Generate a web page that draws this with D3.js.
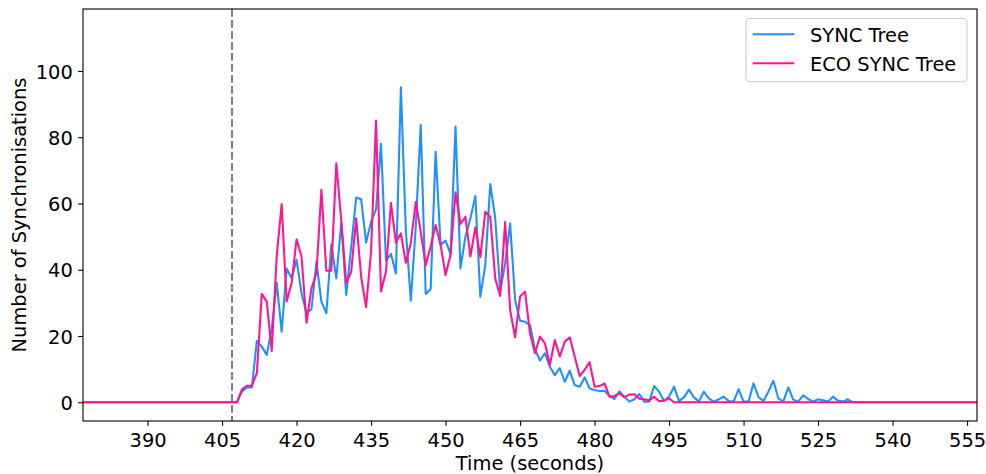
<!DOCTYPE html>
<html>
<head>
<meta charset="utf-8">
<script src="https://cdn.jsdelivr.net/npm/d3@7"></script>
<style>
  body { margin: 0; background: #fff; }
  svg { display: block; }
  text { font-family: "DejaVu Sans", sans-serif; fill: #000; }
</style>
</head>
<body>
<svg id="chart" width="986" height="474"></svg>
<script>
// One reading per second, starting at second 377.
const firstSecond = 377;

const syncTree = [
  // 377-406
  0, 0, 0, 0, 0, 0, 0, 0, 0, 0, 0, 0, 0, 0, 0, 0, 0, 0, 0, 0, 0, 0, 0, 0, 0, 0, 0, 0, 0, 0,
  // 407-416
  0, 0, 3.2, 4.5, 4.5, 18.5, 16.8, 14.3, 22.3, 36.1,
  // 417-426
  21.3, 40.4, 37.4, 43, 32.9, 26.9, 28.1, 42.4, 30.4, 26.9,
  // 427-436
  47.7, 37.4, 54.2, 32.4, 47, 61.8, 61.3, 48.2, 54.5, 58.2,
  // 437-446
  78, 42.7, 44.8, 38.9, 95.1, 52, 30.7, 53, 83.7, 32.7,
  // 447-456
  34.2, 75.6, 47.5, 48.8, 44.8, 83.2, 40.4, 50, 55.5, 62.3,
  // 457-466
  31.9, 41.4, 65.9, 55.5, 33.4, 42, 54, 30.9, 24.6, 24.3,
  // 467-476
  23.3, 16, 12.6, 14.8, 10.7, 8.2, 10.3, 6.2, 9.5, 5.2,
  // 477-486
  4.7, 7.5, 4.2, 3.7, 3.4, 3.5, 1.9, 1.0, 3.3, 1.7,
  // 487-496
  0.2, 0.9, 2.5, 0.2, 0.2, 4.9, 3.2, 0.4, 1.7, 4.7,
  // 497-506
  0.4, 1.5, 3.8, 1.5, 0.2, 3.2, 1.2, 0.2, 0.9, 1.7,
  // 507-516
  0.4, 0.2, 4.0, 0.2, 0.2, 5.7, 1.6, 0.4, 3.2, 6.5,
  // 517-526
  1.2, 0.2, 4.5, 0.8, 0.2, 2.1, 1.0, 0.2, 0.9, 0.6,
  // 527-533
  0.2, 1.7, 0.5, 0.2, 0.9, 0, 0,
  // 534-557
  0, 0, 0, 0, 0, 0, 0, 0, 0, 0, 0, 0, 0, 0, 0, 0, 0, 0, 0, 0, 0, 0, 0, 0
];

const ecoSyncTree = [
  // 377-406
  0, 0, 0, 0, 0, 0, 0, 0, 0, 0, 0, 0, 0, 0, 0, 0, 0, 0, 0, 0, 0, 0, 0, 0, 0, 0, 0, 0, 0, 0,
  // 407-416
  0, 0, 3.9, 5.0, 5.0, 8.8, 32.7, 30.4, 15.5, 44,
  // 417-426
  59.8, 30.4, 35.9, 49.2, 44, 24.0, 34.4, 38.9, 64.1, 39.7,
  // 427-436
  39.7, 72.1, 55, 35.9, 39.4, 55.5, 37.9, 28.7, 45.5, 85,
  // 437-446
  33.4, 39.4, 60.2, 48.2, 51, 42.1, 48, 60.5, 51.5, 41.4,
  // 447-456
  47, 53.5, 47.5, 38.4, 44.5, 63.4, 53.8, 56, 44, 52.8,
  // 457-466
  43.8, 57.5, 56, 37.4, 32.1, 54.5, 27.9, 19.6, 31.9, 33.4,
  // 467-476
  20.8, 14.8, 19.8, 17.8, 11.3, 18.8, 13.8, 18.3, 19.6, 13.8,
  // 477-486
  7.9, 9.8, 12.1, 4.7, 4.9, 5.7, 1.7, 1.9, 2.7, 1.5,
  // 487-496
  2.3, 2.4, 1.1, 0.9, 0.6, 1.7, 0.3, 0.5, 1.2, 0,
  // 497-526
  0, 0, 0, 0, 0, 0, 0, 0, 0, 0, 0, 0, 0, 0, 0, 0, 0, 0, 0, 0, 0, 0, 0, 0, 0, 0, 0, 0, 0, 0,
  // 527-557
  0, 0, 0, 0, 0, 0, 0, 0, 0, 0, 0, 0, 0, 0, 0, 0, 0, 0, 0, 0, 0, 0, 0, 0, 0, 0, 0, 0, 0, 0, 0
];

const seriesNames = ["SYNC Tree", "ECO SYNC Tree"];
const seriesColors = ["#1E90FF", "#FF1493"];
const xTicks = [390, 405, 420, 435, 450, 465, 480, 495, 510, 525, 540, 555];
const yTicks = [0, 20, 40, 60, 80, 100];
const startMarkerSecond = 407;
const xLabel = "Time (seconds)";
const yLabel = "Number of Synchronisations";

// Layout
const fontSize = 19.44;
const plot = { left: 83, right: 977, top: 9, bottom: 421 };

const svg = d3.select("#chart");

const x = d3.scaleLinear().domain([377, 557]).range([plot.left, plot.right]);
const y = d3.scaleLinear().domain([-5.65, 118.7]).range([plot.bottom, plot.top]);

svg.append("defs").append("clipPath").attr("id", "plot-clip")
  .append("rect")
  .attr("x", plot.left).attr("y", plot.top)
  .attr("width", plot.right - plot.left).attr("height", plot.bottom - plot.top);

const toPoints = values => values.map((v, i) => [firstSecond + i, v]);
const line = d3.line().x(d => x(d[0])).y(d => y(d[1]));

const lines = svg.append("g").attr("clip-path", "url(#plot-clip)");
[syncTree, ecoSyncTree].forEach((values, i) => {
  lines.append("path")
    .datum(toPoints(values))
    .attr("d", line)
    .attr("fill", "none")
    .attr("stroke", seriesColors[i])
    .attr("stroke-width", 2.08)
    .attr("stroke-linejoin", "round")
    .attr("stroke-linecap", "butt");
});

// Vertical dashed marker
lines.append("line")
  .attr("x1", x(startMarkerSecond)).attr("x2", x(startMarkerSecond))
  .attr("y1", plot.top).attr("y2", plot.bottom)
  .attr("stroke", "#808080")
  .attr("stroke-width", 2.08)
  .attr("stroke-dasharray", "7.7,3.3");

// X axis
const xAxis = svg.append("g")
  .attr("transform", `translate(0,${plot.bottom})`)
  .call(d3.axisBottom(x).tickValues(xTicks).tickFormat(d3.format("d")).tickSize(4.86).tickSizeOuter(0));
xAxis.select(".domain").remove();
xAxis.selectAll(".tick line").attr("stroke", "#000").attr("stroke-width", 1.1);
xAxis.selectAll(".tick text")
  .attr("y", 25.7).attr("dy", null)
  .style("font-size", fontSize + "px")
  .style("font-family", "DejaVu Sans");

// Y axis
const yAxis = svg.append("g")
  .attr("transform", `translate(${plot.left},0)`)
  .call(d3.axisLeft(y).tickValues(yTicks).tickFormat(d3.format("d")).tickSize(4.86).tickSizeOuter(0));
yAxis.select(".domain").remove();
yAxis.selectAll(".tick line").attr("stroke", "#000").attr("stroke-width", 1.1);
yAxis.selectAll(".tick text")
  .attr("x", -10.2).attr("dy", "7.1px")
  .style("font-size", fontSize + "px")
  .style("font-family", "DejaVu Sans");

// Frame
svg.append("rect")
  .attr("x", plot.left).attr("y", plot.top)
  .attr("width", plot.right - plot.left).attr("height", plot.bottom - plot.top)
  .attr("fill", "none").attr("stroke", "#000").attr("stroke-width", 1.1);

// Axis titles
svg.append("text")
  .attr("x", (plot.left + plot.right) / 2).attr("y", 469.5)
  .attr("text-anchor", "middle")
  .style("font-size", fontSize + "px")
  .text(xLabel);

svg.append("text")
  .attr("transform", `translate(26,${(plot.top + plot.bottom) / 2}) rotate(-90)`)
  .attr("text-anchor", "middle")
  .style("font-size", fontSize + "px")
  .text(yLabel);

// Legend
const legend = svg.append("g");
legend.append("rect")
  .attr("x", 746).attr("y", 18.5).attr("width", 221).attr("height", 63.2)
  .attr("rx", 4).attr("ry", 4)
  .attr("fill", "#fff").attr("fill-opacity", 0.8)
  .attr("stroke", "#cccccc").attr("stroke-width", 1.1);
seriesNames.forEach((name, i) => {
  const cy = 34.3 + i * 29;
  legend.append("line")
    .attr("x1", 752.7).attr("x2", 794.3)
    .attr("y1", cy).attr("y2", cy)
    .attr("stroke", seriesColors[i]).attr("stroke-width", 2.08);
  legend.append("text")
    .attr("x", 810).attr("y", cy + 7.3)
    .style("font-size", fontSize + "px")
    .text(name);
});
</script>
</body>
</html>
